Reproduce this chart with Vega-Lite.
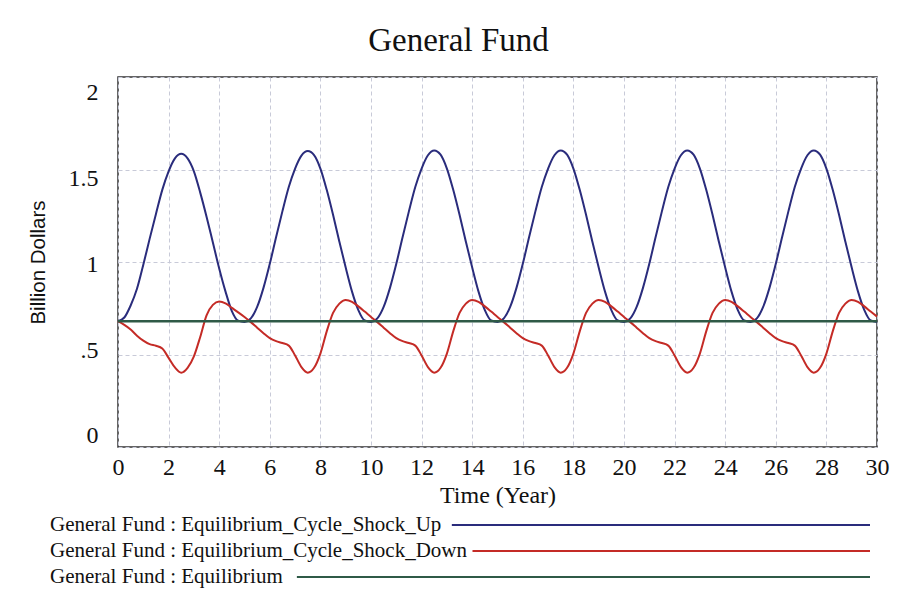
{
  "$schema": "https://vega.github.io/schema/vega-lite/v6.json",
  "background": "white",
  "padding": {"left": 27, "top": 25, "right": 10, "bottom": 5},
  "title": {"text": "General Fund", "font": "Liberation Serif", "fontSize": 33, "fontWeight": "normal", "color": "#111111", "anchor": "middle", "offset": 18},
  "spacing": 4,
  "vconcat": [
    {
      "width": 759,
      "height": 370,
      "data": {"values": [
        {"t":0,"up":0.68,"down":0.68,"eq":0.68},
        {"t":0.25,"up":0.70,"down":0.66,"eq":0.68},
        {"t":0.5,"up":0.765,"down":0.635,"eq":0.68},
        {"t":0.75,"up":0.855,"down":0.602,"eq":0.68},
        {"t":1,"up":0.985,"down":0.575,"eq":0.68},
        {"t":1.25,"up":1.125,"down":0.556,"eq":0.68},
        {"t":1.5,"up":1.26,"down":0.547,"eq":0.68},
        {"t":1.75,"up":1.39,"down":0.532,"eq":0.68},
        {"t":2,"up":1.49,"down":0.482,"eq":0.68},
        {"t":2.25,"up":1.56,"down":0.43,"eq":0.68},
        {"t":2.5,"up":1.585,"down":0.402,"eq":0.68},
        {"t":2.75,"up":1.56,"down":0.428,"eq":0.68},
        {"t":3,"up":1.49,"down":0.49,"eq":0.68},
        {"t":3.25,"up":1.375,"down":0.595,"eq":0.68},
        {"t":3.5,"up":1.245,"down":0.712,"eq":0.68},
        {"t":3.75,"up":1.105,"down":0.768,"eq":0.68},
        {"t":4,"up":0.965,"down":0.786,"eq":0.68},
        {"t":4.25,"up":0.84,"down":0.776,"eq":0.68},
        {"t":4.5,"up":0.735,"down":0.752,"eq":0.68},
        {"t":4.75,"up":0.683,"down":0.728,"eq":0.68},
        {"t":5,"up":0.676,"down":0.703,"eq":0.68},
        {"t":5.25,"up":0.695,"down":0.675,"eq":0.68},
        {"t":5.5,"up":0.757,"down":0.645,"eq":0.68},
        {"t":5.75,"up":0.86,"down":0.615,"eq":0.68},
        {"t":6,"up":0.99,"down":0.588,"eq":0.68},
        {"t":6.25,"up":1.135,"down":0.572,"eq":0.68},
        {"t":6.5,"up":1.275,"down":0.562,"eq":0.68},
        {"t":6.75,"up":1.405,"down":0.548,"eq":0.68},
        {"t":7,"up":1.505,"down":0.495,"eq":0.68},
        {"t":7.25,"up":1.575,"down":0.432,"eq":0.68},
        {"t":7.5,"up":1.60,"down":0.402,"eq":0.68},
        {"t":7.75,"up":1.578,"down":0.428,"eq":0.68},
        {"t":8,"up":1.505,"down":0.505,"eq":0.68},
        {"t":8.25,"up":1.39,"down":0.625,"eq":0.68},
        {"t":8.5,"up":1.255,"down":0.725,"eq":0.68},
        {"t":8.75,"up":1.11,"down":0.775,"eq":0.68},
        {"t":9,"up":0.97,"down":0.795,"eq":0.68},
        {"t":9.25,"up":0.84,"down":0.785,"eq":0.68},
        {"t":9.5,"up":0.74,"down":0.76,"eq":0.68},
        {"t":9.75,"up":0.684,"down":0.732,"eq":0.68},
        {"t":10,"up":0.676,"down":0.703,"eq":0.68},
        {"t":10.25,"up":0.695,"down":0.675,"eq":0.68},
        {"t":10.5,"up":0.757,"down":0.645,"eq":0.68},
        {"t":10.75,"up":0.86,"down":0.615,"eq":0.68},
        {"t":11,"up":0.99,"down":0.588,"eq":0.68},
        {"t":11.25,"up":1.135,"down":0.572,"eq":0.68},
        {"t":11.5,"up":1.275,"down":0.562,"eq":0.68},
        {"t":11.75,"up":1.405,"down":0.548,"eq":0.68},
        {"t":12,"up":1.505,"down":0.495,"eq":0.68},
        {"t":12.25,"up":1.577,"down":0.432,"eq":0.68},
        {"t":12.5,"up":1.603,"down":0.402,"eq":0.68},
        {"t":12.75,"up":1.58,"down":0.428,"eq":0.68},
        {"t":13,"up":1.505,"down":0.505,"eq":0.68},
        {"t":13.25,"up":1.39,"down":0.625,"eq":0.68},
        {"t":13.5,"up":1.255,"down":0.725,"eq":0.68},
        {"t":13.75,"up":1.11,"down":0.775,"eq":0.68},
        {"t":14,"up":0.97,"down":0.795,"eq":0.68},
        {"t":14.25,"up":0.84,"down":0.785,"eq":0.68},
        {"t":14.5,"up":0.74,"down":0.76,"eq":0.68},
        {"t":14.75,"up":0.684,"down":0.732,"eq":0.68},
        {"t":15,"up":0.676,"down":0.703,"eq":0.68},
        {"t":15.25,"up":0.695,"down":0.675,"eq":0.68},
        {"t":15.5,"up":0.757,"down":0.645,"eq":0.68},
        {"t":15.75,"up":0.86,"down":0.615,"eq":0.68},
        {"t":16,"up":0.99,"down":0.588,"eq":0.68},
        {"t":16.25,"up":1.135,"down":0.572,"eq":0.68},
        {"t":16.5,"up":1.275,"down":0.562,"eq":0.68},
        {"t":16.75,"up":1.405,"down":0.548,"eq":0.68},
        {"t":17,"up":1.505,"down":0.495,"eq":0.68},
        {"t":17.25,"up":1.577,"down":0.432,"eq":0.68},
        {"t":17.5,"up":1.603,"down":0.402,"eq":0.68},
        {"t":17.75,"up":1.58,"down":0.428,"eq":0.68},
        {"t":18,"up":1.505,"down":0.505,"eq":0.68},
        {"t":18.25,"up":1.39,"down":0.625,"eq":0.68},
        {"t":18.5,"up":1.255,"down":0.725,"eq":0.68},
        {"t":18.75,"up":1.11,"down":0.775,"eq":0.68},
        {"t":19,"up":0.97,"down":0.795,"eq":0.68},
        {"t":19.25,"up":0.84,"down":0.785,"eq":0.68},
        {"t":19.5,"up":0.74,"down":0.76,"eq":0.68},
        {"t":19.75,"up":0.684,"down":0.732,"eq":0.68},
        {"t":20,"up":0.676,"down":0.703,"eq":0.68},
        {"t":20.25,"up":0.695,"down":0.675,"eq":0.68},
        {"t":20.5,"up":0.757,"down":0.645,"eq":0.68},
        {"t":20.75,"up":0.86,"down":0.615,"eq":0.68},
        {"t":21,"up":0.99,"down":0.588,"eq":0.68},
        {"t":21.25,"up":1.135,"down":0.572,"eq":0.68},
        {"t":21.5,"up":1.275,"down":0.562,"eq":0.68},
        {"t":21.75,"up":1.405,"down":0.548,"eq":0.68},
        {"t":22,"up":1.505,"down":0.495,"eq":0.68},
        {"t":22.25,"up":1.577,"down":0.432,"eq":0.68},
        {"t":22.5,"up":1.603,"down":0.402,"eq":0.68},
        {"t":22.75,"up":1.58,"down":0.428,"eq":0.68},
        {"t":23,"up":1.505,"down":0.505,"eq":0.68},
        {"t":23.25,"up":1.39,"down":0.625,"eq":0.68},
        {"t":23.5,"up":1.255,"down":0.725,"eq":0.68},
        {"t":23.75,"up":1.11,"down":0.775,"eq":0.68},
        {"t":24,"up":0.97,"down":0.795,"eq":0.68},
        {"t":24.25,"up":0.84,"down":0.785,"eq":0.68},
        {"t":24.5,"up":0.74,"down":0.76,"eq":0.68},
        {"t":24.75,"up":0.684,"down":0.732,"eq":0.68},
        {"t":25,"up":0.676,"down":0.703,"eq":0.68},
        {"t":25.25,"up":0.695,"down":0.675,"eq":0.68},
        {"t":25.5,"up":0.757,"down":0.645,"eq":0.68},
        {"t":25.75,"up":0.86,"down":0.615,"eq":0.68},
        {"t":26,"up":0.99,"down":0.588,"eq":0.68},
        {"t":26.25,"up":1.135,"down":0.572,"eq":0.68},
        {"t":26.5,"up":1.275,"down":0.562,"eq":0.68},
        {"t":26.75,"up":1.405,"down":0.548,"eq":0.68},
        {"t":27,"up":1.505,"down":0.495,"eq":0.68},
        {"t":27.25,"up":1.577,"down":0.432,"eq":0.68},
        {"t":27.5,"up":1.603,"down":0.402,"eq":0.68},
        {"t":27.75,"up":1.58,"down":0.428,"eq":0.68},
        {"t":28,"up":1.505,"down":0.505,"eq":0.68},
        {"t":28.25,"up":1.39,"down":0.625,"eq":0.68},
        {"t":28.5,"up":1.255,"down":0.725,"eq":0.68},
        {"t":28.75,"up":1.11,"down":0.775,"eq":0.68},
        {"t":29,"up":0.97,"down":0.795,"eq":0.68},
        {"t":29.25,"up":0.84,"down":0.785,"eq":0.68},
        {"t":29.5,"up":0.74,"down":0.76,"eq":0.68},
        {"t":29.75,"up":0.684,"down":0.732,"eq":0.68},
        {"t":30,"up":0.676,"down":0.705,"eq":0.68}
      ]},
      "encoding": {
        "x": {"field": "t", "type": "quantitative",
          "scale": {"domain": [0, 30], "nice": false},
          "axis": {"values": [0,2,4,6,8,10,12,14,16,18,20,22,24,26,28,30], "title": "Time (Year)", "labelFontSize": 24, "labelPadding": 8, "titleFontSize": 24, "titlePadding": 4, "labelFlush": false}}
      },
      "layer": [
        {"mark": {"type": "line", "interpolate": "monotone", "strokeWidth": 2},
         "encoding": {
           "y": {"field": "up", "type": "quantitative",
             "scale": {"domain": [0, 2], "nice": false},
             "axis": {"values": [0, 0.5, 1, 1.5, 2], "title": "Billion Dollars",
               "labelExpr": "datum.value == 0.5 ? '.5' : format(datum.value, '~g')",
               "labelFontSize": 24, "labelPadding": 20, "labelBaseline": "middle",
               "labelOffset": {"condition": [
                 {"test": "datum.value == 2", "value": 15},
                 {"test": "datum.value == 1.5", "value": 9},
                 {"test": "datum.value == 1", "value": 2},
                 {"test": "datum.value == 0.5", "value": -4}
               ], "value": -12},
               "titleFont": "Liberation Sans", "titleFontSize": 20.5, "titlePadding": 20}},
           "color": {"datum": "up", "type": "nominal", "scale": {"domain": ["up", "down", "eq"], "range": ["#2a2c7c", "#c42b26", "#2f5a47"]}, "legend": null}
         }},
        {"mark": {"type": "line", "interpolate": "monotone", "strokeWidth": 2},
         "encoding": {
           "y": {"field": "down", "type": "quantitative"},
           "color": {"datum": "down", "type": "nominal"}
         }},
        {"mark": {"type": "line", "strokeWidth": 2.5},
         "encoding": {
           "y": {"field": "eq", "type": "quantitative"},
           "color": {"datum": "eq", "type": "nominal"}
         }}
      ]
    },
    {
      "width": 752,
      "height": 78,
      "view": {"stroke": null},
      "data": {"values": [
        {"key": "up", "label": "General Fund : Equilibrium_Cycle_Shock_Up"},
        {"key": "down", "label": "General Fund : Equilibrium_Cycle_Shock_Down"},
        {"key": "eq", "label": "General Fund : Equilibrium"}
      ]},
      "transform": [{"calculate": "10.33 * length(datum.label) - 89.7", "as": "lineStart"}],
      "encoding": {
        "y": {"field": "key", "type": "nominal", "sort": ["up", "down", "eq"], "axis": null, "scale": {"type": "point", "padding": 0.5}}
      },
      "layer": [
        {"mark": {"type": "text", "align": "left", "baseline": "middle", "font": "Liberation Serif", "fontSize": 21, "color": "#111111"},
         "encoding": {
           "x": {"datum": -68, "type": "quantitative", "scale": {"domain": [0, 752], "nice": false}, "axis": null},
           "text": {"field": "label"}
         }},
        {"mark": {"type": "rule", "strokeWidth": 2},
         "encoding": {
           "x": {"field": "lineStart", "type": "quantitative"},
           "x2": {"datum": 752},
           "color": {"field": "key", "type": "nominal", "legend": null}
         }}
      ]
    }
  ],
  "config": {
    "font": "Liberation Serif",
    "view": {"stroke": "#333333", "strokeWidth": 1.5},
    "axis": {
      "labelFont": "Liberation Serif", "labelColor": "#111111",
      "titleFont": "Liberation Serif", "titleColor": "#111111", "titleFontWeight": "normal",
      "domain": false, "ticks": false,
      "gridColor": "#c8cad8", "gridDash": [4, 3], "gridWidth": 1
    }
  }
}
